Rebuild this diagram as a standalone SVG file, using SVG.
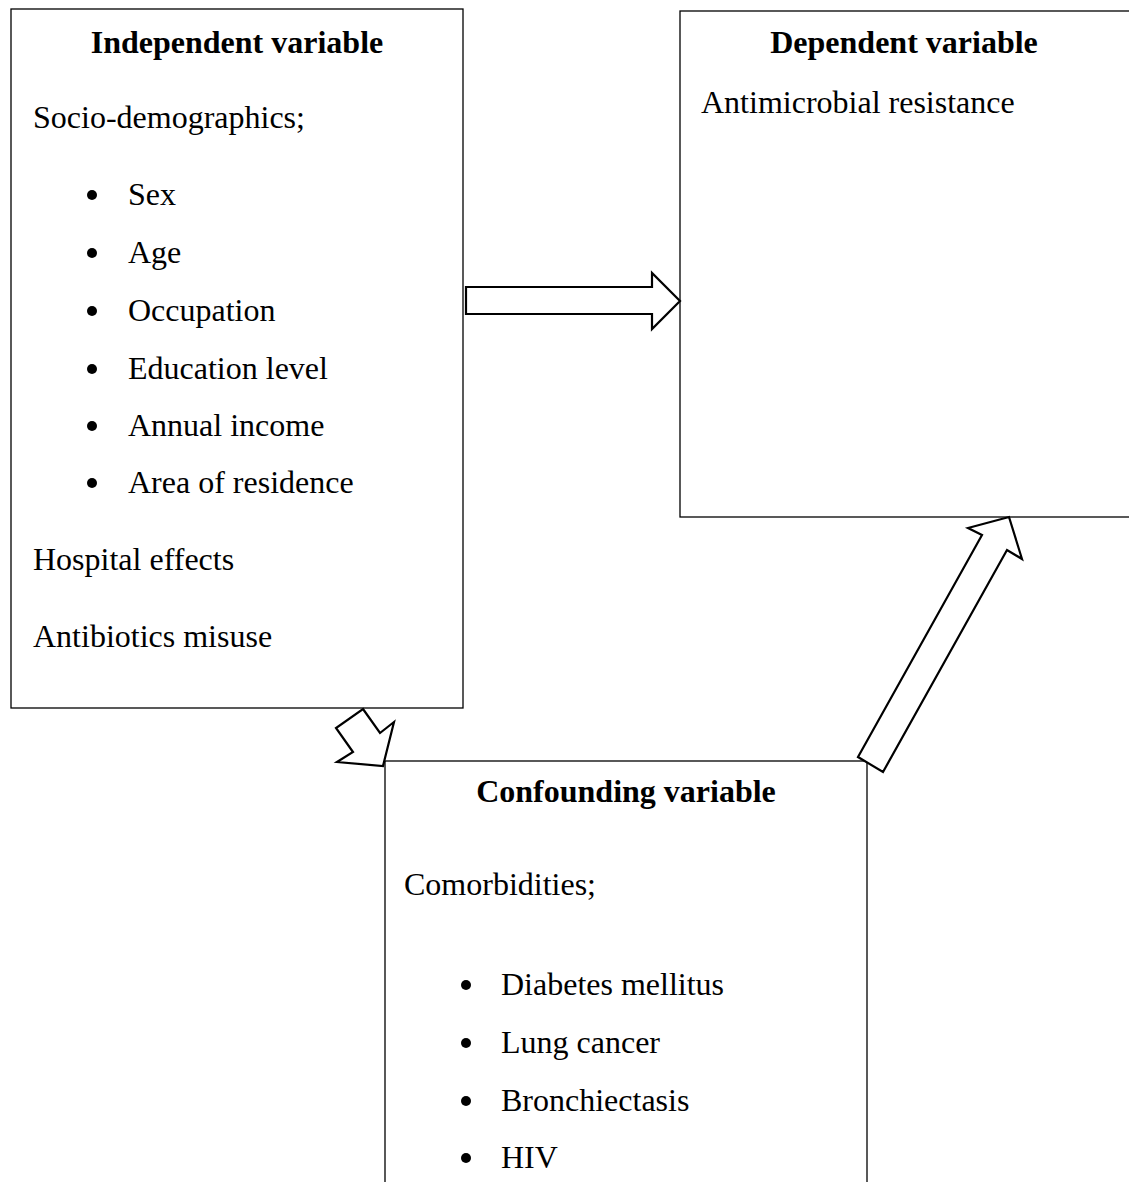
<svg xmlns="http://www.w3.org/2000/svg" width="1129" height="1182" viewBox="0 0 1129 1182">
<style>
.box{fill:#fff;stroke:#000;stroke-width:1.3}
.arr{fill:#fff;stroke:#000;stroke-width:2.2;stroke-linejoin:miter}
text{font-family:"Liberation Serif","Times New Roman",serif;font-size:32px;fill:#000}
.t{font-weight:bold;text-anchor:middle}
.b{fill:#000}
</style>
<rect width="1129" height="1182" fill="#fff"/>
<g id="independent">
<rect class="box" x="11" y="9" width="452" height="699"/>
<text class="t" x="237" y="53">Independent variable</text>
<text x="33" y="128">Socio-demographics;</text>
<circle class="b" cx="92" cy="195" r="5"/><text x="128" y="205">Sex</text>
<circle class="b" cx="92" cy="253" r="5"/><text x="128" y="263">Age</text>
<circle class="b" cx="92" cy="311" r="5"/><text x="128" y="321">Occupation</text>
<circle class="b" cx="92" cy="369" r="5"/><text x="128" y="379">Education level</text>
<circle class="b" cx="92" cy="426" r="5"/><text x="128" y="436">Annual income</text>
<circle class="b" cx="92" cy="483" r="5"/><text x="128" y="493">Area of residence</text>
<text x="33" y="570">Hospital effects</text>
<text x="33" y="647">Antibiotics misuse</text>
</g>
<g id="dependent">
<rect class="box" x="680" y="11" width="460" height="506"/>
<text class="t" x="904" y="53">Dependent variable</text>
<text x="701" y="113">Antimicrobial resistance</text>
</g>
<g id="confounding">
<rect class="box" x="385" y="761" width="482" height="440"/>
<text class="t" x="626" y="802">Confounding variable</text>
<text x="404" y="895">Comorbidities;</text>
<circle class="b" cx="466" cy="985" r="5"/><text x="501" y="995">Diabetes mellitus</text>
<circle class="b" cx="466" cy="1043" r="5"/><text x="501" y="1053">Lung cancer</text>
<circle class="b" cx="466" cy="1101" r="5"/><text x="501" y="1111">Bronchiectasis</text>
<circle class="b" cx="466" cy="1158" r="5"/><text x="501" y="1168">HIV</text>
</g>
<g id="connectors">
<polygon class="arr" points="466,287 652,287 652,273 680,301 652,329 652,314 466,314"/>
<polygon class="arr" points="363,709 380,733 394,722 383,766 337,762 353,752 336,728"/>
<polygon class="arr" points="858,757 982,535 968,528 1009,517 1022,559 1007,550 883,772"/>
</g>
</svg>
